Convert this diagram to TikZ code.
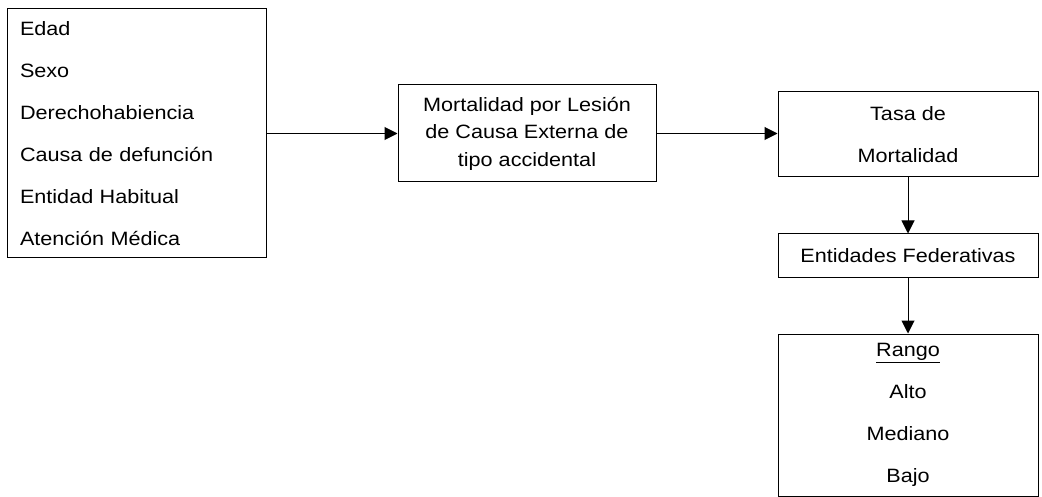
\documentclass[tikz,border=0pt]{standalone}
\usepackage{fontspec}
\setmainfont{Liberation Sans}[FakeStretch=1.12]
\usetikzlibrary{arrows.meta,
                positioning}

\begin{document}
\begin{tikzpicture}[x=1pt, y=-1pt,
node distance = 56pt and 131pt,
caja/.style = {draw, line width=1pt, inner sep=0pt, align=center,
               font=\fontsize{19.3}{42}\selectfont},
flecha/.style = {-{Triangle[length=13pt,width=13pt]}, line width=1pt}
                        ]
    \useasboundingbox (0,0) rectangle (1042,497);
    \node (vars)[caja, minimum width=259pt, minimum height=249pt,
                 text width=233pt, align=left] at (136.5,133.5)
          {Edad\\Sexo\\Derechohabiencia\\Causa de defunción\\Entidad Habitual\\Atención Médica};
    \node (mort)[caja, right=of vars, minimum width=258pt, minimum height=97pt,
                 font=\fontsize{19.3}{27.5}\selectfont]
          {Mortalidad por Lesión\\de Causa Externa de\\tipo accidental};
    \node (tasa)[caja, minimum width=260pt, minimum height=85pt] at (908,134.5)
          {Tasa de\\Mortalidad};
    \node (entid)[caja, below=of tasa, minimum width=260pt, minimum height=44pt]
          {Entidades Federativas};
    \node (rango)[caja, below=55pt of entid, minimum width=260pt, minimum height=162pt]
          {\underline{Rango}\\Alto\\Mediano\\Bajo};

    \draw[flecha] (vars) -- (mort);
    \draw[flecha] (mort) -- (mort -| tasa.west);
    \draw[flecha] (tasa) -- (entid);
    \draw[flecha] (entid) -- (rango);
\end{tikzpicture}
\end{document}
